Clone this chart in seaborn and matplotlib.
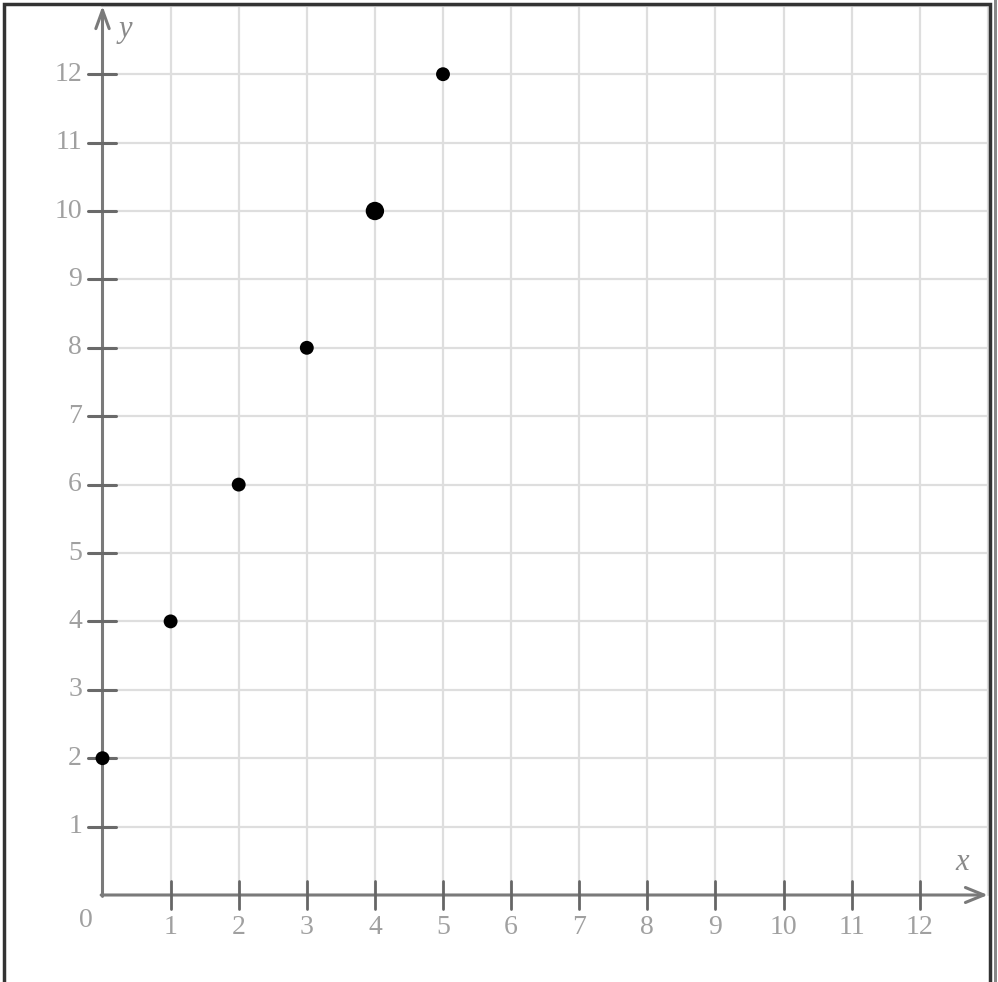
import numpy as np
import pandas as pd
import matplotlib
matplotlib.use("Agg")
import matplotlib.pyplot as plt
import seaborn as sns
from matplotlib.patches import Rectangle

# Data
x_vals = [0, 1, 2, 3, 4, 5]
y_vals = [2, 4, 6, 8, 10, 12]
marker_kind = ["small", "small", "small", "small", "big", "small"]
x_ticks = list(range(1, 13))
y_ticks = list(range(1, 13))

df = pd.DataFrame({"x": x_vals, "y": y_vals, "kind": marker_kind})

sns.set_theme(style="white")
plt.rcParams["font.family"] = ["Liberation Serif", "DejaVu Serif"]

fig = plt.figure(figsize=(9.98, 9.82), dpi=100)
ax = fig.add_axes([0, 0, 1, 1])

# pixel mapping: x=0 at px 102.5, 68.1 px/unit ; y=0 at py 895, 68.4 px/unit
XLIM = (-102.5 / 68.1, (998 - 102.5) / 68.1)
YLIM = ((895 - 982) / 68.4, 895 / 68.4)

grid_c = "#dedede"
axis_c = "#7a7a7a"
label_c = "#a0a0a0"

# grid
for g in range(1, 14):
    ax.plot([g, g], [0, 13], color=grid_c, lw=1.6, zorder=1)
    ax.plot([0, 13], [g, g], color=grid_c, lw=1.6, zorder=1)

# axes with open arrow heads
ax.annotate("", xy=(13.0, 0), xytext=(-0.02, 0),
            arrowprops=dict(arrowstyle="->,head_length=1.1,head_width=0.45",
                            lw=2.2, color=axis_c, shrinkA=0, shrinkB=0), zorder=3)
ax.annotate("", xy=(0, 13.0), xytext=(0, -0.02),
            arrowprops=dict(arrowstyle="->,head_length=1.1,head_width=0.4",
                            lw=2.2, color=axis_c, shrinkA=0, shrinkB=0), zorder=3)

# tick marks
for t in x_ticks:
    ax.plot([t, t], [-0.2, 0.2], color="#666666", lw=2.0, zorder=3)
    ax.text(t, -0.47, str(t), ha="center", va="center", fontsize=20, color=label_c)
for t in y_ticks:
    ax.plot([-0.22, 0.2], [t, t], color="#6a6a6a", lw=2.2, zorder=3)
    ax.text(-0.3, t, str(t), ha="right", va="center", fontsize=20, color=label_c)
ax.text(-0.24, -0.37, "0", ha="center", va="center", fontsize=20, color=label_c)

ax.text(12.63, 0.48, "x", ha="center", va="center", fontsize=22,
        style="italic", color="#8a8a8a")
ax.text(0.33, 12.65, "y", ha="center", va="center", fontsize=22,
        style="italic", color="#8a8a8a")

# points
sns.scatterplot(data=df, x="x", y="y", size="kind",
                sizes={"small": 100, "big": 175}, color="black",
                edgecolor="black", linewidth=0, legend=False, ax=ax, zorder=5)
ax.set_xlim(*XLIM)
ax.set_ylim(*YLIM)
ax.axis("off")

# outer frame
fig.patches.append(Rectangle((4 / 998, -0.02), (990 - 4) / 998, 1 - 4 / 982 + 0.02,
                             transform=fig.transFigure, fill=False,
                             edgecolor="#333333", lw=2.5))
fig.patches.append(Rectangle((994 / 998, 0), 3 / 998, 1,
                             transform=fig.transFigure, facecolor="#888888",
                             edgecolor="none"))

fig.savefig("out.png", dpi=100)
